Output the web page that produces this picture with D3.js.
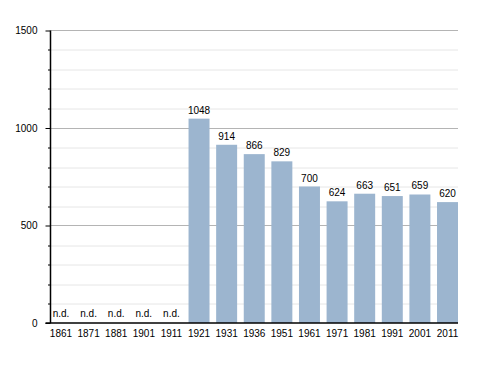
<!DOCTYPE html>
<html>
<head>
<meta charset="utf-8">
<script src="https://cdn.jsdelivr.net/npm/d3@7"></script>
<style>
  body { margin: 0; background: #fff; }
  svg text { font-family: "Liberation Sans", Arial, sans-serif; font-size: 10px; fill: #000; }
</style>
</head>
<body>
<svg id="chart" width="488" height="373"></svg>
<script>
var years = ['1861', '1871', '1881', '1901', '1911', '1921', '1931', '1936', '1951', '1961', '1971', '1981', '1991', '2001', '2011'];
var population = [null, null, null, null, null, 1048, 914, 866, 829, 700, 624, 663, 651, 659, 620];
var majorTicks = [0, 500, 1000, 1500];
var minorTicks = d3.range(100, 1500, 100).filter(function(v) { return v % 500 !== 0; });

var margin = { top: 30.5, left: 50.5, right: 30, bottom: 50 };
var width = 458 - margin.left;
var height = 323 - margin.top;

var svg = d3.select('#chart');
var g = svg.append('g')
    .attr('transform', 'translate(' + margin.left + ',' + margin.top + ')');

var x = d3.scaleBand()
    .domain(years)
    .range([0, width])
    .paddingInner(0.24)
    .paddingOuter(0);

var y = d3.scaleLinear()
    .domain([0, 1500])
    .range([height, 0]);

// minor grid lines
g.selectAll('.minor-grid')
    .data(minorTicks)
    .enter().append('line')
    .attr('x1', 0)
    .attr('x2', width)
    .attr('y1', function(d) { return Math.round(y(d)) + 0.5; })
    .attr('y2', function(d) { return Math.round(y(d)) + 0.5; })
    .attr('stroke', '#e6e6e6')
    .attr('stroke-width', 1);

// major grid lines
g.selectAll('.major-grid')
    .data(majorTicks.slice(1))
    .enter().append('line')
    .attr('x1', 0)
    .attr('x2', width)
    .attr('y1', function(d) { return Math.round(y(d)); })
    .attr('y2', function(d) { return Math.round(y(d)); })
    .attr('stroke', '#b4b4b4')
    .attr('stroke-width', 1);

var data = years.map(function(yr, i) { return { year: yr, value: population[i] }; });

g.selectAll('.bar')
    .data(data.filter(function(d) { return d.value !== null; }))
    .enter().append('rect')
    .attr('class', 'bar')
    .attr('x', function(d) { return x(d.year); })
    .attr('y', function(d) { return y(d.value); })
    .attr('width', x.bandwidth())
    .attr('height', function(d) { return height - y(d.value); })
    .attr('fill', '#9cb5cf');

g.selectAll('.value-label')
    .data(data)
    .enter().append('text')
    .attr('class', 'value-label')
    .attr('x', function(d) { return x(d.year) + x.bandwidth() / 2; })
    .attr('y', function(d) { return d.value === null ? y(0) - 6 : y(d.value) - 5; })
    .attr('text-anchor', 'middle')
    .text(function(d) { return d.value === null ? 'n.d.' : d.value; });

// y axis
var yAxis = d3.axisLeft(y)
    .tickValues(majorTicks)
    .tickSize(5)
    .tickPadding(8)
    .tickFormat(d3.format('d'));

var yg = g.append('g').call(yAxis);
yg.select('.domain').remove();
yg.selectAll('.tick line').attr('stroke', '#000');

g.selectAll('.minor-tick')
    .data(minorTicks)
    .enter().append('line')
    .attr('x1', -2.5)
    .attr('x2', 0)
    .attr('y1', function(d) { return Math.round(y(d)) + 0.5; })
    .attr('y2', function(d) { return Math.round(y(d)) + 0.5; })
    .attr('stroke', '#000');

g.append('line')
    .attr('x1', 0).attr('x2', 0)
    .attr('y1', 0).attr('y2', height)
    .attr('stroke', '#000')
    .attr('stroke-width', 1.5);

// x axis
var xAxis = d3.axisBottom(x).tickSize(0).tickPadding(7);
var xg = g.append('g')
    .attr('transform', 'translate(0,' + height + ')')
    .call(xAxis);
xg.select('.domain').remove();

g.append('line')
    .attr('x1', -5).attr('x2', width)
    .attr('y1', height).attr('y2', height)
    .attr('stroke', '#000')
    .attr('stroke-width', 1.5);

svg.selectAll('.tick text').style('font-size', '10px').style('font-family', '"Liberation Sans", Arial, sans-serif');
</script>
</body>
</html>
